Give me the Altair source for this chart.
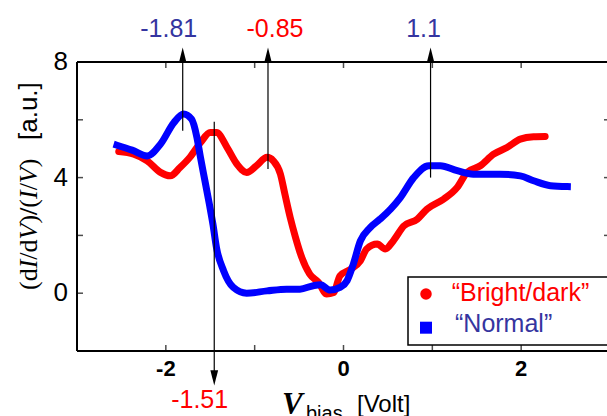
import altair as alt
import pandas as pd

# ---- data ----
red_v = [-2.53, -2.36, -2.21, -2.06, -1.95, -1.84, -1.73, -1.61, -1.50, -1.43, -1.31, -1.20,
         -1.09, -0.98, -0.86, -0.79, -0.71, -0.66, -0.60, -0.54, -0.47, -0.38, -0.28, -0.19,
         -0.11, -0.04, 0.08, 0.19, 0.26, 0.38, 0.47, 0.56, 0.68, 0.83, 0.94, 1.13, 1.28, 1.39,
         1.54, 1.69, 1.84, 1.99, 2.14, 2.27]
red_val = [4.9, 4.81, 4.58, 4.18, 4.06, 4.35, 4.7, 5.21, 5.56, 5.56, 5.04, 4.47,
           4.18, 4.41, 4.7, 4.58, 4.12, 3.43, 2.62, 1.93, 1.24, 0.66, 0.37, -0.03,
           0.02, 0.6, 0.83, 1.12, 1.53, 1.7, 1.53, 1.81, 2.33, 2.56, 2.91, 3.26, 3.66, 4.18,
           4.41, 4.81, 5.04, 5.33, 5.41, 5.42]
blue_v = [-2.55, -2.38, -2.21, -2.06, -1.91, -1.80, -1.71, -1.65, -1.61, -1.56, -1.51, -1.47,
          -1.43, -1.35, -1.24, -1.09, -0.86, -0.64, -0.49, -0.34, -0.26, -0.15, -0.04, 0.04,
          0.11, 0.19, 0.30, 0.41, 0.53, 0.64, 0.79, 0.96, 1.09, 1.28, 1.46, 1.76, 1.99, 2.14,
          2.33, 2.52]
blue_val = [5.12, 4.95, 4.75, 5.16, 5.9, 6.2, 6.02, 5.39, 4.7, 3.89, 3.08, 2.39,
            1.58, 0.78, 0.2, 0.0, 0.08, 0.14, 0.14, 0.26, 0.29, 0.11, 0.2, 0.43,
            1.0, 1.81, 2.27, 2.56, 2.91, 3.31, 4.0, 4.41, 4.41, 4.24, 4.12, 4.12, 4.06, 3.89,
            3.72, 3.69]

series_names = ["\u201cBright/dark\u201d", "\u201cNormal\u201d"]
x_label_values = [-2, 0, 2]
x_tick_values = [-2, -1, 0, 1, 2]
y_label_values = [0, 4, 8]
y_tick_values = [0, 2, 4, 6, 8]

# annotations: arrow position (V), label text, line end value
top_arrow_v = [-1.81, -0.85, 0.98]
top_arrow_text = ["-1.81", "-0.85", "1.1"]
top_arrow_end = [5.62, 4.3, 4.0]
bottom_arrow_v = [-1.455]
bottom_arrow_text = ["-1.51"]
bottom_arrow_start = [5.93]

RED = "#ff0000"
BLUE = "#0000ff"
TXT_BLUE = "#3535a0"
SANS = "Liberation Sans"
SERIF = "Liberation Serif"

xs = alt.Scale(domain=[-3, 3], range=[0, 533], nice=False, zero=False)
ys = alt.Scale(domain=[-2, 8], nice=False, zero=False)


def X(f):
    return alt.X(f, scale=xs, axis=None)


def Y(f):
    return alt.Y(f, scale=ys, axis=None)


red_df = pd.DataFrame({"v": red_v, "val": red_val, "s": series_names[0]})
blue_df = pd.DataFrame({"v": blue_v, "val": blue_val, "s": series_names[1]})

red_line = alt.Chart(red_df).mark_line(color=RED, strokeWidth=7, strokeCap="round",
                                       strokeJoin="round", interpolate="monotone").encode(
    x=X("v:Q"), y=Y("val:Q"))
blue_line = alt.Chart(blue_df).mark_line(color=BLUE, strokeWidth=7, strokeCap="square",
                                         strokeJoin="round", interpolate="monotone").encode(
    x=X("v:Q"), y=Y("val:Q"))

one = alt.Data(values=[{"a": 1}])

# frame
frame_left = alt.Chart(one).mark_rule(color="black", strokeWidth=2).encode(
    x=alt.XDatum(-3, scale=xs, axis=None))
frame_bottom = alt.Chart(one).mark_rule(color="black", strokeWidth=2).encode(
    y=alt.YDatum(-2, scale=ys, axis=None))
frame_top = alt.Chart(one).mark_rule(color="black", strokeWidth=2).encode(
    y=alt.YDatum(8, scale=ys, axis=None))

ytick_df = pd.DataFrame({"t": y_tick_values})
xtick_df = pd.DataFrame({"t": x_tick_values})
tick_left = alt.Chart(ytick_df).mark_tick(orient="horizontal", size=6, thickness=1.5,
                                          color="black", xOffset=3).encode(
    y=Y("t:Q"), x=alt.XDatum(-3, scale=xs, axis=None))
tick_right = alt.Chart(ytick_df).mark_tick(orient="horizontal", size=6, thickness=1.5,
                                           color="black", xOffset=-3).encode(
    y=Y("t:Q"), x=alt.XDatum(3, scale=xs, axis=None))
tick_bottom = alt.Chart(xtick_df).mark_tick(orient="vertical", size=6, thickness=1.5,
                                            color="black", yOffset=-3).encode(
    x=X("t:Q"), y=alt.YDatum(-2, scale=ys, axis=None))
tick_top = alt.Chart(xtick_df).mark_tick(orient="vertical", size=6, thickness=1.5,
                                         color="black", yOffset=3).encode(
    x=X("t:Q"), y=alt.YDatum(8, scale=ys, axis=None))

# tick labels (drawn through the scales)
xlab_df = pd.DataFrame({"t": x_label_values, "s": [str(v) for v in x_label_values]})
ylab_df = pd.DataFrame({"t": y_label_values, "s": [str(v) for v in y_label_values]})
xlabels = alt.Chart(xlab_df).mark_text(font=SANS, fontSize=22, fontWeight="bold", color="black",
                                       baseline="middle", align="center", dy=18).encode(
    x=X("t:Q"), y=alt.YDatum(-2, scale=ys, axis=None), text="s:N")
ylabels = alt.Chart(ylab_df).mark_text(font=SANS, fontSize=26, color="black",
                                       baseline="middle", align="right", dx=-9).encode(
    y=Y("t:Q"), x=alt.XDatum(-3, scale=xs, axis=None), text="s:N")

# arrows
top_df = pd.DataFrame({"v": top_arrow_v, "end": top_arrow_end, "head": [8.23] * 3,
                       "t": top_arrow_text})
bot_df = pd.DataFrame({"v": bottom_arrow_v, "start": bottom_arrow_start, "head": [-2.93],
                       "t": bottom_arrow_text})

top_rules = alt.Chart(top_df).mark_rule(color="black", strokeWidth=1.2).encode(
    x=X("v:Q"), y=Y("head:Q"), y2="end:Q")
bot_rules = alt.Chart(bot_df).mark_rule(color="black", strokeWidth=1.2).encode(
    x=X("v:Q"), y=Y("start:Q"), y2="head:Q")
top_heads = alt.Chart(top_df).mark_point(shape="M0,-1L0.5,1L-0.5,1Z", filled=True, size=240,
                                         color="black", opacity=1).encode(
    x=X("v:Q"), y=Y("head:Q"))
bot_heads = alt.Chart(bot_df).mark_point(shape="M0,1L0.5,-1L-0.5,-1Z", filled=True, size=240,
                                         color="black", opacity=1).encode(
    x=X("v:Q"), y=Y("head:Q"))

ann_layers = []
top_dx = [-14.0, 7.0, -7.0]
top_col = [TXT_BLUE, RED, TXT_BLUE]
for i in range(len(top_arrow_v)):
    d = pd.DataFrame({"v": [top_arrow_v[i]], "y": [9.15], "t": [top_arrow_text[i]]})
    ann_layers.append(alt.Chart(d).mark_text(font=SANS, fontSize=25, color=top_col[i],
                                             dx=top_dx[i], baseline="middle", align="center").encode(
        x=X("v:Q"), y=Y("y:Q"), text="t:N"))
d = pd.DataFrame({"v": bottom_arrow_v, "y": [-3.69], "t": bottom_arrow_text})
ann_layers.append(alt.Chart(d).mark_text(font=SANS, fontSize=25, color=RED, dx=-14.6,
                                         baseline="middle", align="center").encode(
    x=X("v:Q"), y=Y("y:Q"), text="t:N"))

# legend (custom box)
leg_box = alt.Chart(one).mark_rect(fill="white", stroke="black", strokeWidth=1.5).encode(
    x=alt.value(331), x2=alt.value(600), y=alt.value(215), y2=alt.value(283))
leg_red = alt.Chart(one).mark_point(shape="circle", filled=True, size=133, color=RED,
                                    opacity=1).encode(x=alt.value(349), y=alt.value(232))
leg_blue = alt.Chart(one).mark_point(shape="square", filled=True, size=144, color=BLUE,
                                     opacity=1).encode(x=alt.value(349), y=alt.value(265.7))
leg_t1 = alt.Chart(one).mark_text(font=SANS, fontSize=25, color=RED, align="left",
                                  baseline="middle", text=series_names[0]).encode(
    x=alt.value(374.7), y=alt.value(231))
leg_t2 = alt.Chart(one).mark_text(font=SANS, fontSize=25, color=TXT_BLUE, align="left",
                                  baseline="middle", text=series_names[1]).encode(
    x=alt.value(378), y=alt.value(262))

# x-axis title: V_bias [Volt]
xt_v = alt.Chart(one).mark_text(font=SERIF, fontSize=31, fontStyle="italic", fontWeight="bold",
                                align="left", baseline="alphabetic", text="V").encode(
    x=alt.value(205), y=alt.value(352))
xt_b = alt.Chart(one).mark_text(font=SANS, fontSize=20, align="left", baseline="alphabetic",
                                text="bias").encode(x=alt.value(229), y=alt.value(358))
xt_u = alt.Chart(one).mark_text(font=SANS, fontSize=24, align="left", baseline="alphabetic",
                                text="[Volt]").encode(x=alt.value(280), y=alt.value(350))

# y-axis title: (dI/dV)/(I/V)  [a.u.]
pieces = [("(d", "normal", "normal", 0.833), ("I", "italic", "normal", 0.333),
          ("/d", "normal", "normal", 0.778), ("V", "italic", "normal", 0.611),
          (")", "normal", "normal", 0.333), ("/", "normal", "bold", 0.278),
          ("(", "normal", "normal", 0.333), ("I", "italic", "normal", 0.333),
          ("/", "normal", "normal", 0.278), ("V", "italic", "normal", 0.611),
          (")", "normal", "normal", 0.333)]
yt_layers = []
fs = 26
pos = 228.0
for txt, st, wt, w in pieces:
    yt_layers.append(alt.Chart(one).mark_text(font=SERIF, fontSize=fs, fontStyle=st, fontWeight=wt,
                                              angle=270, align="left", baseline="alphabetic",
                                              text=txt).encode(x=alt.value(-40), y=alt.value(pos)))
    pos -= w * fs
yt_layers.append(alt.Chart(one).mark_text(font=SANS, fontSize=26, angle=270, align="left",
                                          baseline="alphabetic", text="[a.u.]").encode(
    x=alt.value(-40), y=alt.value(78)))

chart = alt.layer(
    red_line, blue_line, frame_left, frame_bottom, frame_top,
    tick_left, tick_right, tick_bottom, tick_top, xlabels, ylabels,
    top_rules, bot_rules, top_heads, bot_heads, *ann_layers,
    leg_box, leg_red, leg_blue, leg_t1, leg_t2,
    xt_v, xt_b, xt_u, *yt_layers
).properties(
    width=530, height=289,
    padding={"left": 77, "top": 62, "right": 0, "bottom": 65},
    autosize=alt.AutoSizeParams(type="none"),
).configure_view(stroke=None).configure(background="white")

chart.save("out.html", embed_options={"renderer": "svg", "actions": False})
